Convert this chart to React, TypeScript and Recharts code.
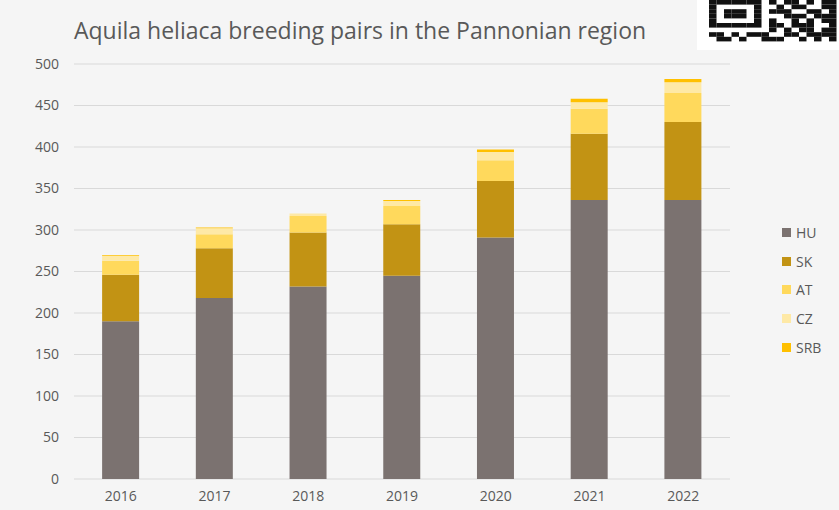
import React from 'react'
import { BarChart, Bar, XAxis, YAxis, CartesianGrid } from 'recharts'

const years = ['2016', '2017', '2018', '2019', '2020', '2021', '2022']
const hu = [190, 218, 232, 245, 291, 336, 336]
const sk = [56, 60, 65, 62, 68, 80, 94]
const at = [17, 17, 20, 22, 25, 30, 35]
const cz = [6, 7, 3, 6, 10, 8, 13]
const srb = [1, 1, 0, 1, 3, 4, 4]
const yTicks = [0, 50, 100, 150, 200, 250, 300, 350, 400, 450, 500]

const series = [
  { key: 'HU', color: '#7b7270' },
  { key: 'SK', color: '#c29314' },
  { key: 'AT', color: '#ffd95c' },
  { key: 'CZ', color: '#fee9a6' },
  { key: 'SRB', color: '#ffc000' }
]

const data = years.map((year, i) => ({
  year,
  HU: hu[i],
  SK: sk[i],
  AT: at[i],
  CZ: cz[i],
  SRB: srb[i]
}))

const font = 'Open Sans, sans-serif'

// decorative code block in the top-right corner
const qrPattern = [
  '11111110101101011',
  '10000010010110011',
  '10111010111001101',
  '10111010001110111',
  '10000010100101011',
  '11111110110111001',
  '00000000101011011',
  '11010111001101111',
  '01101001110010101'
]

const LegendBox = () => (
  <div style={{ position: 'absolute', left: 782, top: 218, fontFamily: font, fontSize: 14, color: '#595959' }}>
    {series.map((s) => (
      <div key={s.key} style={{ display: 'flex', alignItems: 'center', height: 28.7 }}>
        <span style={{ width: 9, height: 9, background: s.color, display: 'inline-block', marginRight: 5 }} />
        {s.key}
      </div>
    ))}
  </div>
)

const App: React.FC = () => {
  return (
    <div style={{ position: 'absolute', left: 0, top: 0, width: 839, height: 510, background: '#f5f5f5', overflow: 'hidden' }}>
      <div style={{ position: 'absolute', left: 74, top: 14, fontFamily: font, fontSize: 23, color: '#595959' }}>
        Aquila heliaca breeding pairs in the Pannonian region
      </div>
      <div style={{ position: 'absolute', left: 697, top: 0, width: 142, height: 50, background: '#ffffff' }}>
        <svg width={130} height={42} style={{ position: 'absolute', left: 12, top: 0 }}>
          {qrPattern.map((row, r) =>
            row.split('').map((c, col) =>
              c === '1' ? <rect key={r + '-' + col} x={col * 7.5} y={r * 4.6} width={7.5} height={4.6} fill="#111" /> : null
            )
          )}
        </svg>
      </div>
      <BarChart
        width={839}
        height={510}
        data={data}
        margin={{ top: 64, right: 109, bottom: 0, left: 0 }}
        barCategoryGap="30%"
        style={{ position: 'absolute', left: 0, top: 0 }}
      >
        <CartesianGrid vertical={false} stroke="#d9d9d9" />
        <XAxis
          dataKey="year"
          axisLine={false}
          tickLine={false}
          height={31}
          tickMargin={6}
          tick={{ fill: '#595959', fontSize: 14, fontFamily: font }}
        />
        <YAxis
          domain={[0, 500]}
          ticks={yTicks}
          width={74}
          axisLine={false}
          tickLine={false}
          tickMargin={9}
          tick={{ fill: '#595959', fontSize: 14, fontFamily: font }}
        />
        {series.map((s) => (
          <Bar key={s.key} dataKey={s.key} stackId="a" fill={s.color} isAnimationActive={false} />
        ))}
      </BarChart>
      <LegendBox />
    </div>
  )
}

export default App
